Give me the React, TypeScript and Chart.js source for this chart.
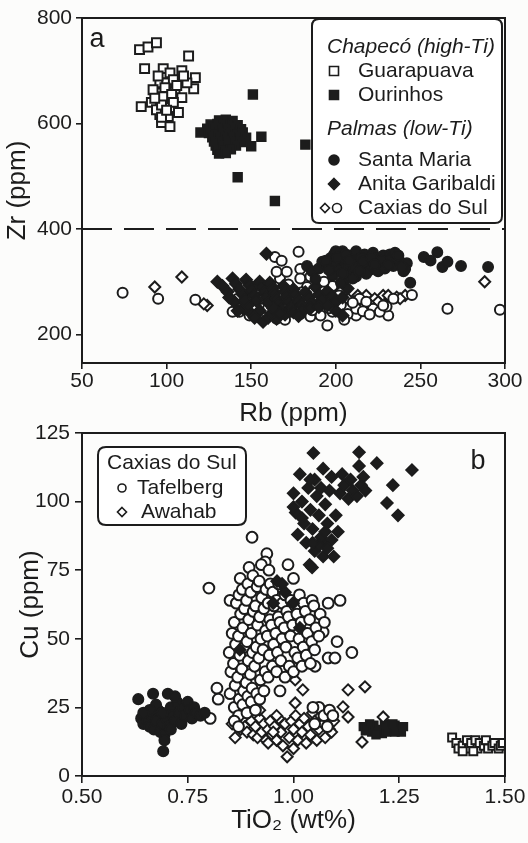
import React, { useEffect, useRef } from "react";
import { Chart, registerables } from "chart.js";

Chart.register(...registerables);

const INK = "#1c1c1c";
const FONT = "'Liberation Sans', Arial, Helvetica, sans-serif";

type P = [number, number];

// ---------------- Panel a : Zr vs Rb ----------------
const xTicksA = [50, 100, 150, 200, 250, 300];
const yTicksA = [200, 400, 600, 800];
const xRangeA = [50, 300];
const yRangeA = [146, 800];
const zrDivide = 400;

const guarapuavaA: P[] = [
  [84, 740], [89, 745], [94, 753], [113, 728], [87, 704], [98, 704], [102, 696], [109, 700],
  [117, 687], [116, 666], [96, 677], [95, 658], [100, 660], [105, 664], [109, 649], [85, 632],
  [91, 640], [98, 641], [102, 630], [96, 617], [107, 621], [97, 602], [102, 594], [100, 677],
  [104, 683], [112, 677], [98, 651], [94, 626], [101, 613], [92, 664], [95, 690], [99, 668],
  [103, 655], [97, 635], [93, 648], [106, 672], [110, 690], [97, 612], [104, 640], [100, 625],
];

const ourinhosA: P[] = [
  [120, 583], [131, 606], [135, 607], [139, 605], [126, 598], [130, 599], [134, 597], [138, 598],
  [142, 597], [124, 590], [128, 591], [132, 589], [136, 590], [140, 591], [144, 589], [125, 582],
  [129, 581], [133, 583], [137, 582], [141, 581], [145, 583], [127, 574], [131, 575], [135, 573],
  [139, 574], [143, 575], [147, 573], [128, 566], [132, 565], [136, 567], [140, 566], [144, 565],
  [129, 558], [133, 557], [137, 559], [141, 558], [130, 550], [134, 549], [138, 551], [131, 543],
  [135, 544], [151, 655], [156, 575], [182, 560], [142, 498], [164, 453], [150, 557],
];

const santaMariaA: P[] = [
  [183, 330], [186, 320], [190, 325], [192, 338], [195, 330], [197, 345], [199, 352], [200, 335],
  [202, 322], [204, 358], [205, 340], [207, 330], [209, 350], [210, 318], [212, 358], [213, 342],
  [215, 330], [217, 352], [219, 338], [220, 322], [222, 355], [224, 344], [226, 332], [228, 350],
  [230, 340], [232, 352], [234, 330], [236, 345], [238, 338], [240, 320], [242, 335], [244, 298],
  [241, 324], [252, 347], [256, 340], [260, 356], [263, 328], [266, 338], [274, 330], [290, 328],
  [198, 312], [205, 305], [212, 310], [203, 298], [188, 305], [225, 320], [215, 345], [200, 358],
  [194, 340], [210, 306], [196, 322], [201, 346], [206, 352], [211, 328], [216, 338], [221, 346],
  [227, 340], [233, 345], [239, 328], [218, 315], [229, 325], [235, 355], [208, 340], [214, 320],
  [223, 333], [231, 332], [237, 350], [204, 316],
];

const anitaA: P[] = [
  [130, 300], [133, 292], [136, 281], [139, 306], [141, 296], [143, 286], [145, 276], [147, 304],
  [149, 294], [150, 284], [152, 274], [153, 264], [155, 300], [156, 290], [158, 280], [159, 270],
  [160, 260], [161, 298], [163, 288], [164, 278], [165, 268], [166, 258], [168, 248], [169, 292],
  [170, 282], [171, 272], [172, 262], [174, 252], [175, 286], [176, 276], [178, 266], [180, 256],
  [182, 280], [184, 270], [186, 260], [188, 290], [190, 276], [192, 266], [195, 282], [198, 272],
  [200, 262], [204, 270], [207, 287], [157, 224], [160, 232], [165, 230], [150, 240], [145, 250],
  [140, 262], [142, 245], [148, 255], [155, 245], [162, 240], [170, 238], [175, 242], [180, 245],
  [185, 250], [190, 252], [195, 255], [204, 236], [159, 353], [137, 270], [146, 265], [163, 250],
  [167, 240], [152, 232], [178, 235], [200, 245],
];

const caxiasCirclesA: P[] = [
  [74, 279], [95, 268], [117, 266], [164, 347], [168, 340], [178, 357], [245, 275], [266, 249],
  [297, 247], [195, 217], [231, 236], [212, 236], [139, 243], [143, 243], [149, 236], [156, 240],
  [165, 230], [173, 243], [179, 239], [185, 234], [191, 236], [198, 243], [207, 239], [212, 249],
  [222, 249], [226, 243], [230, 253], [167, 306], [165, 319], [171, 319], [179, 324], [179, 306],
  [183, 290], [187, 285], [191, 290], [195, 274], [198, 292], [202, 274], [171, 274], [175, 262],
  [163, 268], [156, 268], [147, 262], [142, 268], [150, 281], [214, 268], [218, 262], [228, 255],
  [234, 268], [160, 250], [168, 255], [176, 250], [183, 256], [190, 262], [196, 250], [203, 256],
  [210, 260], [216, 244], [220, 238], [186, 246], [158, 232], [170, 228], [205, 228], [188, 268],
  [180, 280], [193, 300], [185, 310], [172, 295], [160, 285], [153, 250],
];

const caxiasDiamondsA: P[] = [
  [93, 290], [109, 309], [124, 255], [122, 258], [288, 300], [213, 274], [218, 274], [223, 268],
  [228, 274], [232, 268], [236, 271], [207, 268], [201, 255], [195, 255], [189, 262], [183, 268],
  [179, 274], [211, 262], [217, 255], [241, 274], [238, 268], [231, 274], [225, 262], [203, 282],
  [192, 278], [186, 250], [199, 268], [220, 258],
];

// ---------------- Panel b : Cu vs TiO2 ----------------
const xTicksB = [0.5, 0.75, 1.0, 1.25, 1.5];
const yTicksB = [0, 25, 50, 75, 100, 125];
const xRangeB = [0.5, 1.5];
const yRangeB = [0, 125];

const santaMariaB: P[] = [
  [0.633, 28], [0.668, 30], [0.703, 30], [0.692, 9], [0.64, 21], [0.645, 19], [0.65, 22],
  [0.655, 20], [0.66, 18], [0.665, 22], [0.67, 17], [0.675, 20], [0.68, 24], [0.685, 16],
  [0.69, 19], [0.695, 15], [0.70, 21], [0.705, 18], [0.71, 25], [0.715, 22], [0.72, 20],
  [0.725, 27], [0.73, 23], [0.735, 19], [0.74, 25], [0.745, 22], [0.75, 27], [0.755, 24],
  [0.76, 21], [0.765, 25], [0.77, 23], [0.78, 22], [0.79, 23], [0.675, 26], [0.66, 24],
  [0.645, 23], [0.69, 23], [0.71, 17], [0.72, 29], [0.695, 13], [1.067, 85.3],
];

const ourinhosB: P[] = [
  [1.165, 18], [1.175, 17], [1.185, 16], [1.19, 18.5], [1.2, 17], [1.21, 15.5], [1.22, 18],
  [1.23, 17], [1.24, 18.5], [1.25, 17], [1.255, 16], [1.18, 19], [1.2, 16], [1.22, 16],
  [1.24, 16], [1.17, 16.5], [1.195, 15], [1.215, 19], [1.235, 19], [1.26, 18],
];

const guarapuavaB: P[] = [
  [1.375, 14], [1.385, 12], [1.39, 10], [1.40, 11], [1.41, 13], [1.415, 10], [1.42, 12],
  [1.43, 13], [1.435, 10], [1.44, 12], [1.45, 11], [1.455, 13], [1.46, 10], [1.47, 11],
  [1.475, 12], [1.485, 10], [1.49, 11], [1.495, 12], [1.40, 9], [1.425, 9],
];

const anitaB: P[] = [
  [1.00, 103], [1.005, 96], [1.01, 88], [1.015, 110], [1.02, 100], [1.025, 92], [1.03, 85],
  [1.035, 105], [1.04, 97], [1.045, 90], [1.05, 82], [1.05, 108], [1.055, 102], [1.06, 95],
  [1.065, 87], [1.07, 80], [1.07, 112], [1.075, 99], [1.08, 92], [1.085, 104], [1.09, 86],
  [1.095, 80], [1.10, 95], [1.105, 89], [1.11, 103], [1.115, 110], [1.12, 106], [1.13, 101],
  [1.135, 108], [1.14, 104], [1.15, 102], [1.155, 113], [1.16, 106], [1.165, 109], [1.17, 104],
  [1.047, 117.7], [1.155, 118], [1.197, 114], [1.28, 111.5], [1.235, 106], [1.221, 99.5],
  [1.247, 95], [1.038, 77], [1.044, 76], [1.06, 84], [1.08, 83], [1.04, 108], [1.065, 105],
  [1.09, 109], [1.0, 98], [1.02, 94], [1.045, 85], [1.075, 89], [0.961, 71], [0.98, 67],
  [0.952, 63], [0.999, 63], [0.873, 46], [1.015, 54], [0.973, 70],
];

const tafelbergB: P[] = [
  [0.902, 87], [0.80, 68.5], [0.85, 64], [1.11, 64], [1.082, 63], [0.937, 81], [0.933, 78],
  [0.987, 77], [1.0, 72], [1.138, 45], [1.103, 49], [1.082, 43], [1.098, 43], [1.051, 40],
  [0.819, 32], [0.803, 21], [0.822, 28], [1.07, 52.5], [1.06, 25], [1.072, 22], [1.085, 24],
  [1.05, 19], [1.08, 18], [0.85, 30], [0.852, 38], [0.848, 45], [0.855, 52], [0.86, 25],
  [0.862, 33], [0.858, 41], [0.863, 48], [0.86, 56], [0.865, 63], [0.87, 22], [0.872, 28],
  [0.868, 36], [0.873, 44], [0.87, 51], [0.875, 59], [0.871, 66], [0.874, 72], [0.88, 26],
  [0.882, 31], [0.878, 39], [0.883, 47], [0.88, 54], [0.884, 61], [0.879, 68], [0.89, 23],
  [0.892, 29], [0.888, 34], [0.893, 42], [0.89, 49], [0.894, 57], [0.889, 64], [0.892, 70],
  [0.895, 76], [0.90, 27], [0.902, 32], [0.898, 37], [0.903, 45], [0.90, 52], [0.905, 60],
  [0.899, 67], [0.904, 73], [0.91, 24], [0.913, 30], [0.908, 40], [0.912, 47], [0.915, 55],
  [0.91, 62], [0.914, 69], [0.92, 28], [0.922, 35], [0.918, 43], [0.923, 50], [0.92, 58],
  [0.925, 65], [0.919, 71], [0.924, 77], [0.93, 31], [0.933, 38], [0.928, 46], [0.934, 53],
  [0.93, 61], [0.935, 68], [0.94, 36], [0.943, 44], [0.938, 51], [0.944, 57], [0.94, 63],
  [0.945, 70], [0.942, 75], [0.95, 40], [0.953, 48], [0.948, 55], [0.954, 62], [0.951, 67],
  [0.96, 38], [0.962, 45], [0.958, 52], [0.964, 58], [0.96, 64], [0.965, 70], [0.97, 42],
  [0.973, 50], [0.968, 56], [0.974, 63], [0.98, 36], [0.982, 47], [0.978, 54], [0.984, 60],
  [0.98, 66], [0.99, 40], [0.993, 51], [0.988, 58], [0.994, 64], [1.00, 38], [1.003, 45],
  [0.998, 55], [1.004, 62], [1.01, 43], [1.013, 50], [1.008, 59], [1.014, 66], [1.02, 40],
  [1.023, 47], [1.018, 56], [1.024, 63], [1.03, 44], [1.033, 52], [1.028, 60], [1.04, 41],
  [1.043, 49], [1.038, 57], [1.044, 64], [1.05, 46], [1.053, 54], [1.048, 62], [1.06, 51],
  [1.063, 59], [1.073, 56], [1.046, 25], [1.093, 22], [0.968, 31], [0.86, 20], [0.87, 18],
];

const awahabB: P[] = [
  [0.855, 19], [0.862, 14], [0.87, 22], [0.875, 17], [0.88, 21], [0.885, 18], [0.89, 16],
  [0.9, 20], [0.905, 15], [0.91, 18], [0.915, 14], [0.92, 21], [0.925, 16], [0.93, 19],
  [0.935, 13], [0.94, 17], [0.945, 20], [0.95, 15], [0.955, 18], [0.96, 13], [0.965, 21],
  [0.97, 16], [0.975, 11], [0.98, 19], [0.985, 7], [0.99, 14], [0.995, 20], [1.0, 10],
  [1.0, 17], [1.005, 22], [1.01, 13], [1.015, 19], [1.02, 16], [1.025, 21], [1.03, 12],
  [1.035, 18], [1.04, 15], [1.045, 23], [1.05, 20], [1.055, 13], [1.06, 17], [1.065, 24],
  [1.07, 19], [1.075, 14], [1.08, 21], [1.085, 17], [1.09, 16], [1.095, 20], [0.895, 24],
  [0.96, 22], [1.004, 35], [1.022, 31.4], [1.129, 31.4], [1.169, 32.5], [1.117, 25.2],
  [1.129, 21.5], [1.212, 21.5], [1.162, 12.4], [1.004, 26.6], [0.952, 16], [0.94, 12], [0.92, 24],
];

// ---------------- legends ----------------
const legendGroupsA = [
  {
    title: "Chapecó (high-Ti)",
    items: [
      { label: "Guarapuava", markers: [{ shape: "rect", filled: false }] },
      { label: "Ourinhos", markers: [{ shape: "rect", filled: true }] },
    ],
  },
  {
    title: "Palmas (low-Ti)",
    items: [
      { label: "Santa Maria", markers: [{ shape: "circle", filled: true }] },
      { label: "Anita Garibaldi", markers: [{ shape: "diamond", filled: true }] },
      {
        label: "Caxias do Sul",
        markers: [
          { shape: "diamond", filled: false },
          { shape: "circle", filled: false },
        ],
      },
    ],
  },
];
const legendTitleB = "Caxias do Sul";
const legendItemsB = [
  { label: "Tafelberg", shape: "circle" },
  { label: "Awahab", shape: "diamond" },
];

// ---------------- helpers ----------------
const toXY = (arr: P[]) => arr.map(([x, y]) => ({ x, y }));

function drawMarker(ctx: CanvasRenderingContext2D, shape: string, x: number, y: number, r: number, filled: boolean) {
  ctx.beginPath();
  if (shape === "circle") ctx.arc(x, y, r, 0, Math.PI * 2);
  else if (shape === "rect") ctx.rect(x - r, y - r, 2 * r, 2 * r);
  else {
    ctx.moveTo(x, y - r);
    ctx.lineTo(x + r, y);
    ctx.lineTo(x, y + r);
    ctx.lineTo(x - r, y);
    ctx.closePath();
  }
  ctx.fillStyle = filled ? INK : "#fff";
  ctx.fill();
  ctx.lineWidth = 1.6;
  ctx.strokeStyle = INK;
  ctx.stroke();
}

function roundRect(ctx: CanvasRenderingContext2D, x0: number, y0: number, x1: number, y1: number, r: number) {
  ctx.beginPath();
  ctx.moveTo(x0 + r, y0);
  ctx.lineTo(x1 - r, y0);
  ctx.quadraticCurveTo(x1, y0, x1, y0 + r);
  ctx.lineTo(x1, y1 - r);
  ctx.quadraticCurveTo(x1, y1, x1 - r, y1);
  ctx.lineTo(x0 + r, y1);
  ctx.quadraticCurveTo(x0, y1, x0, y1 - r);
  ctx.lineTo(x0, y0 + r);
  ctx.quadraticCurveTo(x0, y0, x0 + r, y0);
  ctx.closePath();
}

const framePlugin = {
  id: "frame",
  afterDatasetsDraw(chart: any) {
    const { ctx, chartArea } = chart;
    const { left, top, right, bottom } = chartArea;
    ctx.save();
    ctx.strokeStyle = INK;
    ctx.lineWidth = 2;
    ctx.strokeRect(left, top, right - left, bottom - top);
    ctx.restore();
  },
};

const legendPluginA = {
  id: "legendA",
  afterDraw(chart: any) {
    const { ctx, chartArea } = chart;
    const { left, top, right } = chartArea;
    ctx.save();
    const x0 = right - 193, y0 = top + 1, x1 = right - 3, y1 = top + 205;
    roundRect(ctx, x0, y0, x1, y1, 7);
    ctx.fillStyle = "#fff";
    ctx.fill();
    ctx.lineWidth = 2;
    ctx.strokeStyle = INK;
    ctx.stroke();
    ctx.textBaseline = "middle";
    ctx.textAlign = "left";
    ctx.fillStyle = INK;
    const headerY = [top + 29, top + 111];
    const rowY = [[top + 53, top + 77], [top + 142, top + 166, top + 190]];
    legendGroupsA.forEach((g, gi) => {
      ctx.font = `italic 21px ${FONT}`;
      ctx.fillStyle = INK;
      ctx.fillText(g.title, x0 + 15, headerY[gi]);
      g.items.forEach((it, ii) => {
        const y = rowY[gi][ii];
        if (it.markers.length === 1) {
          const m = it.markers[0];
          drawMarker(ctx, m.shape, x0 + 22, y, m.shape === "diamond" ? 5.5 : m.shape === "rect" ? 4.5 : 5, m.filled);
        } else {
          it.markers.forEach((m, mi) => drawMarker(ctx, m.shape, x0 + 13 + mi * 12, y, 4.5, m.filled));
        }
        ctx.font = `21px ${FONT}`;
        ctx.fillStyle = INK;
        ctx.fillText(it.label, x0 + 46, y);
      });
    });
    ctx.font = `27px ${FONT}`;
    ctx.textAlign = "center";
    ctx.fillText("a", left + 15, top + 22);
    ctx.restore();
  },
};

const legendPluginB = {
  id: "legendB",
  afterDraw(chart: any) {
    const { ctx, chartArea } = chart;
    const { left, top, right } = chartArea;
    ctx.save();
    const x0 = left + 16, y0 = top + 14, x1 = left + 164, y1 = top + 92;
    roundRect(ctx, x0, y0, x1, y1, 8);
    ctx.fillStyle = "#fff";
    ctx.fill();
    ctx.lineWidth = 2;
    ctx.strokeStyle = INK;
    ctx.stroke();
    ctx.textBaseline = "middle";
    ctx.textAlign = "left";
    ctx.fillStyle = INK;
    ctx.font = `21px ${FONT}`;
    ctx.fillText(legendTitleB, x0 + 9, top + 30);
    const rowY = [top + 55, top + 79];
    const labelX = [x0 + 39, x0 + 43];
    legendItemsB.forEach((it, i) => {
      drawMarker(ctx, it.shape, x0 + 24, rowY[i], it.shape === "circle" ? 4 : 4.5, false);
      ctx.font = `21px ${FONT}`;
      ctx.fillStyle = INK;
      ctx.fillText(it.label, labelX[i], rowY[i]);
    });
    ctx.font = `27px ${FONT}`;
    ctx.textAlign = "center";
    ctx.fillText("b", right - 27, top + 29);
    ctx.restore();
  },
};

function pointSet(data: P[], shape: string, r: number, filled: boolean) {
  return {
    type: "scatter",
    data: toXY(data),
    pointStyle: shape,
    pointRadius: r,
    pointBackgroundColor: filled ? INK : "#fff",
    pointBorderColor: INK,
    pointBorderWidth: filled ? 1.5 : 2,
    showLine: false,
  };
}

function axis(opts: {
  range: number[];
  ticks: number[];
  fmt: (v: number) => string;
  title: string;
  size: number;
  horizontal: boolean;
  tickPad: number;
  tickLen: number;
  titlePad: any;
}) {
  return {
    type: "linear",
    min: opts.range[0],
    max: opts.range[1],
    afterBuildTicks: (s: any) => {
      s.ticks = opts.ticks.map((v) => ({ value: v }));
    },
    afterFit: (s: any) => {
      if (opts.horizontal) s.height = opts.size;
      else s.width = opts.size;
    },
    border: { display: false },
    grid: { drawOnChartArea: false, drawTicks: true, tickLength: opts.tickLen, color: INK, lineWidth: 1.6 },
    ticks: {
      font: { family: FONT, size: 21 },
      color: INK,
      padding: opts.tickPad,
      maxRotation: 0,
      autoSkip: false,
      callback: (v: any) => opts.fmt(Number(v)),
    },
    title: {
      display: true,
      text: opts.title,
      font: { family: FONT, size: 26 },
      color: INK,
      padding: opts.titlePad,
    },
  };
}

function makeConfigA(): any {
  return {
    type: "scatter",
    data: {
      datasets: [
        pointSet(santaMariaA, "circle", 5.2, true),
        pointSet(anitaA, "rectRot", 6.2, true),
        pointSet(caxiasCirclesA, "circle", 5, false),
        pointSet(caxiasDiamondsA, "rectRot", 5.5, false),
        pointSet(ourinhosA, "rect", 6.3, true),
        pointSet(guarapuavaA, "rect", 6.3, false),
        {
          type: "line",
          data: [
            { x: xRangeA[0], y: zrDivide },
            { x: xRangeA[1], y: zrDivide },
          ],
          borderColor: INK,
          borderWidth: 2,
          borderDash: [30, 12],
          pointRadius: 0,
          fill: false,
        },
      ],
    },
    options: {
      responsive: false,
      maintainAspectRatio: false,
      animation: false,
      events: [],
      layout: { padding: { top: 18, right: 23, bottom: 414, left: 0 }, autoPadding: false },
      plugins: { legend: { display: false }, tooltip: { enabled: false } },
      scales: {
        x: axis({ range: xRangeA, ticks: xTicksA, fmt: (v) => String(v), title: "Rb (ppm)", size: 66, horizontal: true, tickPad: 0, tickLen: 6, titlePad: { top: 0, bottom: 0 } }),
        y: axis({ range: yRangeA, ticks: yTicksA, fmt: (v) => String(v), title: "Zr (ppm)", size: 82, horizontal: false, tickPad: 4, tickLen: 6, titlePad: { top: 2, bottom: 0 } }),
      },
    },
    plugins: [framePlugin, legendPluginA],
  };
}

function makeConfigB(): any {
  return {
    type: "scatter",
    data: {
      datasets: [
        pointSet(anitaB, "rectRot", 6, true),
        pointSet(santaMariaB, "circle", 5.3, true),
        pointSet(tafelbergB, "circle", 5.4, false),
        pointSet(awahabB, "rectRot", 5.5, false),
        pointSet(ourinhosB, "rect", 5.6, true),
        pointSet(guarapuavaB, "rect", 5.6, false),
      ],
    },
    options: {
      responsive: false,
      maintainAspectRatio: false,
      animation: false,
      events: [],
      layout: { padding: { top: 433, right: 23, bottom: 7, left: 0 }, autoPadding: false },
      plugins: { legend: { display: false }, tooltip: { enabled: false } },
      scales: {
        x: axis({ range: xRangeB, ticks: xTicksB, fmt: (v) => v.toFixed(2), title: "TiO\u2082 (wt%)", size: 60, horizontal: true, tickPad: 2, tickLen: 7, titlePad: { top: 0, bottom: 0 } }),
        y: axis({ range: yRangeB, ticks: yTicksB, fmt: (v) => String(v), title: "Cu (ppm)", size: 82, horizontal: false, tickPad: 5, tickLen: 7, titlePad: { top: 15, bottom: 0 } }),
      },
    },
    plugins: [framePlugin, legendPluginB],
  };
}

function ChartCanvas({ make }: { make: () => any }) {
  const ref = useRef<HTMLCanvasElement | null>(null);
  useEffect(() => {
    if (!ref.current) return;
    const chart = new Chart(ref.current, make());
    return () => chart.destroy();
  }, [make]);
  return (
    <canvas
      ref={ref}
      width={528}
      height={843}
      style={{ position: "absolute", left: 0, top: 0, width: 528, height: 843 }}
    />
  );
}

export default function App() {
  return (
    <div
      style={{
        position: "absolute",
        left: 0,
        top: 0,
        width: 528,
        height: 843,
        background: "#fcfcfb",
        overflow: "hidden",
      }}
    >
      <ChartCanvas make={makeConfigA} />
      <ChartCanvas make={makeConfigB} />
    </div>
  );
}
